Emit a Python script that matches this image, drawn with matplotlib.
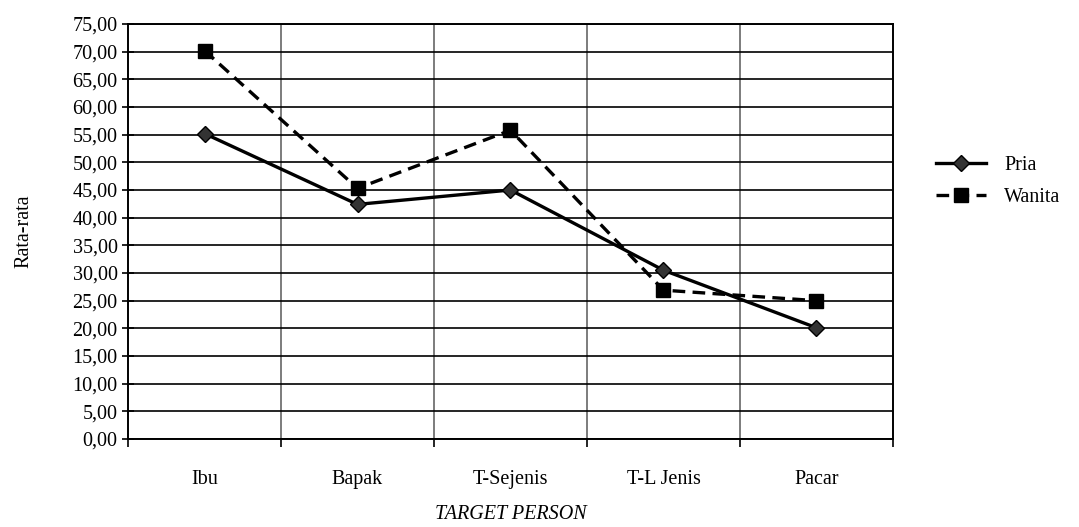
import numpy as np
import matplotlib
matplotlib.use("Agg")
from matplotlib import pyplot as plt
from matplotlib.ticker import FuncFormatter

kategori = ["Ibu", "Bapak", "T-Sejenis", "T-L Jenis", "Pacar"]
pria = [55.2, 42.4, 45.0, 30.5, 20.1]
wanita = [70.2, 45.3, 55.8, 26.9, 25.0]

plt.rcParams['font.family'] = ['Liberation Serif', 'DejaVu Serif']
fs = 14.5

fig = plt.figure(figsize=(10.79, 5.27), dpi=100)
ax = fig.add_axes([128 / 1079, 88 / 527, (893 - 128) / 1079, (439 - 24) / 527])

x = np.arange(len(kategori))
ax.plot(x, pria, color='black', lw=2.4, marker='D', ms=8.5,
        markerfacecolor='#333333', markeredgecolor='black', label='Pria', zorder=3)
ax.plot(x, wanita, color='black', lw=2.4, ls=(0, (3.8, 2.2)), marker='s', ms=9.5,
        markerfacecolor='black', markeredgecolor='black', label='Wanita', zorder=3)

ax.set_xlim(-0.5, len(kategori) - 0.5)
ax.set_ylim(0, 75)
ax.set_yticks(np.arange(0, 76, 5))
ax.yaxis.set_major_formatter(FuncFormatter(lambda v, p: "{:.2f}".format(v).replace(".", ",")))
ax.tick_params(axis='y', direction='inout', length=9, width=1.2, labelsize=fs, pad=3)
ax.grid(axis='y', color='black', lw=1.2)

# batas kategori: tick & garis vertikal
batas = np.arange(-0.5, len(kategori), 1.0)
ax.set_xticks(batas)
ax.set_xticklabels([])
ax.tick_params(axis='x', which='major', direction='out', length=6, width=1.2)
ax.set_xticks(x, minor=True)
ax.set_xticklabels(kategori, minor=True)
ax.tick_params(axis='x', which='minor', length=0, labelsize=fs, pad=22)
for b in batas[1:-1]:
    ax.axvline(b, color='#666666', lw=1.2, zorder=1)

for s in ax.spines.values():
    s.set_color('black')
    s.set_linewidth(1.4)

ax.set_ylabel("Rata-rata", fontsize=fs, labelpad=28)
ax.set_xlabel("TARGET PERSON", fontsize=fs, style='italic', labelpad=12)

ax.legend(loc='center left', bbox_to_anchor=(1.032, 0.62), frameon=False,
          fontsize=fs, handlelength=2.5, handletextpad=0.9, labelspacing=0.65)

fig.savefig("out.png", dpi=100)
